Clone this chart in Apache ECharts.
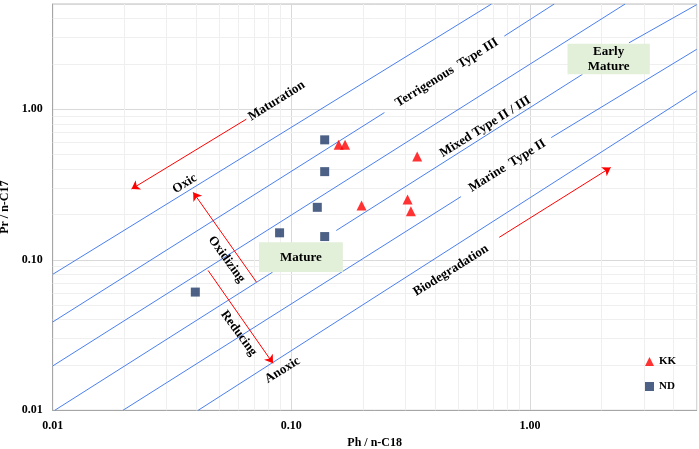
<!DOCTYPE html>
<html lang="en">
<head>
    <meta charset="UTF-8">
    <title>Pr/n-C17 vs Ph/n-C18</title>
    <script src="https://cdn.jsdelivr.net/npm/echarts@6/dist/echarts.min.js"></script>
    <style>html, body { margin: 0; padding: 0; background: #fff; }</style>
</head>
<body>
    <div id="main" style="width: 699px; height: 449px;"></div>

    <script>
        // samples as [Ph/n-C18, Pr/n-C17]
        var kkData = [[0.158, 0.58], [0.168, 0.58], [0.337, 0.486], [0.197, 0.229], [0.307, 0.251], [0.317, 0.210]];
        var ndData = [[0.138, 0.626], [0.138, 0.385], [0.1285, 0.223], [0.0893, 0.151], [0.138, 0.1426], [0.0396, 0.061]];

        var tickValues = [0.01, 0.1, 1];
        var tickLabels = ['0.01', '0.10', '1.00'];
        var minorTicks = [0.02, 0.03, 0.04, 0.05, 0.06, 0.07, 0.08, 0.09,
                          0.2, 0.3, 0.4, 0.5, 0.6, 0.7, 0.8, 0.9, 2, 3, 4];

        // blue guide lines, broken where a label or box sits
        var guideLines = [
            [[0.01, 0.08], [0.69, 5]],
            [[0.01, 0.0386], [0.2456, 0.95]],
            [[0.781, 3.06], [1.264, 5]],
            [[0.01, 0.0197], [2.505, 5]],
            [[0.0102, 0.01], [0.0835, 0.0828]],
            [[0.1543, 0.1564], [1.66, 1.706]],
            [[2.60, 2.76], [5, 4.95]],
            [[0.0197, 0.01], [0.514, 0.2626]],
            [[1.228, 0.648], [5, 2.5]],
            [[0.0407, 0.01], [5, 1.322]]
        ];

        // red arrows: [from, to]
        var arrows = [
            [[0.0648, 0.859], [0.0214, 0.295]],   // maturation
            [[0.0714, 0.0711], [0.0388, 0.2804]], // oxidizing
            [[0.0448, 0.0849], [0.0838, 0.0205]], // reducing
            [[0.744, 0.141], [2.18, 0.410]]       // biodegradation
        ];

        var notes = [
            { text: 'Maturation', at: [0.0868, 1.135], rot: 32 },
            { text: 'Oxic', at: [0.0358, 0.320], rot: 32 },
            { text: 'Terrigenous  Type III', at: [0.449, 1.748], rot: 32 },
            { text: 'Mixed Type II / III', at: [0.650, 0.764], rot: 32 },
            { text: 'Marine  Type II', at: [0.804, 0.421], rot: 32 },
            { text: 'Biodegradation', at: [0.467, 0.0849], rot: 32 },
            { text: 'Anoxic', at: [0.0919, 0.0185], rot: 32 },
            { text: 'Oxidizing', at: [0.0536, 0.1005], rot: -54 },
            { text: 'Reducing', at: [0.0602, 0.0325], rot: -54 }
        ];

        var boxes = [
            { text: 'Mature', from: [0.0732, 0.0828], to: [0.1644, 0.1308] },
            { text: 'Early\nMature', from: [1.437, 1.706], to: [3.18, 2.72] }
        ];

        var serif = '"Times New Roman", "Liberation Serif", serif';
        var boldFont = 'bold 12px ' + serif;
        var noteFont = 'bold 13px ' + serif;

        function tickFormatter(v) {
            for (var i = 0; i < tickValues.length; i++) {
                if (Math.abs(Math.log10(v) - Math.log10(tickValues[i])) < 1e-6) return tickLabels[i];
            }
            return '';
        }

        function logAxis(name, gap, rotate) {
            return {
                type: 'log',
                logBase: 10,
                min: 0.01,
                max: 5,
                name: name,
                nameLocation: 'middle',
                nameGap: gap,
                nameRotate: rotate,
                nameTextStyle: { fontFamily: serif, fontWeight: 'bold', fontSize: 12, color: '#000' },
                axisLine: { show: true, lineStyle: { color: '#a6a6a6' } },
                axisTick: { show: false },
                axisLabel: {
                    formatter: tickFormatter,
                    fontFamily: serif, fontWeight: 'bold', fontSize: 12, color: '#000',
                    margin: 10, showMinLabel: true, showMaxLabel: true
                },
                splitLine: { show: true, lineStyle: { color: '#d9d9d9' } }
            };
        }

        var series = [];

        // faint minor grid (2..9 in each decade)
        series.push({
            type: 'line', data: [], silent: true, z: 1,
            markLine: {
                z: 1, silent: true, animation: false, symbol: ['none', 'none'],
                label: { show: false },
                lineStyle: { color: '#efefef', width: 1, type: 'solid' },
                data: minorTicks.map(function (v) { return { xAxis: v }; })
                    .concat(minorTicks.map(function (v) { return { yAxis: v }; }))
            }
        });

        guideLines.forEach(function (seg) {
            series.push({
                type: 'line', data: seg, symbol: 'none', silent: true, z: 2,
                lineStyle: { color: '#4a7ff0', width: 1 }
            });
        });

        series.push({
            type: 'custom', silent: true, z: 3,
            data: boxes.map(function (b) { return b.from; }),
            renderItem: function (params, api) {
                var b = boxes[params.dataIndex];
                var p1 = api.coord(b.from), p2 = api.coord(b.to);
                return {
                    type: 'group',
                    children: [{
                        type: 'rect',
                        shape: {
                            x: Math.min(p1[0], p2[0]), y: Math.min(p1[1], p2[1]),
                            width: Math.abs(p2[0] - p1[0]), height: Math.abs(p2[1] - p1[1])
                        },
                        style: { fill: '#e2efd9' }
                    }, {
                        type: 'text',
                        x: (p1[0] + p2[0]) / 2, y: (p1[1] + p2[1]) / 2,
                        style: { text: b.text, font: noteFont, fill: '#000', align: 'center', verticalAlign: 'middle', lineHeight: 15 }
                    }]
                };
            }
        });

        series.push({
            type: 'line', data: [], silent: true, z: 4,
            markLine: {
                z: 4, silent: true, animation: false,
                symbol: ['none', 'arrow'], symbolSize: 8,
                label: { show: false },
                lineStyle: { color: '#ff0000', width: 1, type: 'solid' },
                data: arrows.map(function (a) { return [{ coord: a[0] }, { coord: a[1] }]; })
            }
        });

        series.push({
            type: 'custom', silent: true, z: 5,
            data: notes.map(function (n) { return n.at; }),
            renderItem: function (params, api) {
                var n = notes[params.dataIndex];
                var p = api.coord(n.at);
                return {
                    type: 'text', x: p[0], y: p[1],
                    rotation: n.rot * Math.PI / 180,
                    style: { text: n.text, font: noteFont, fill: '#000', align: 'center', verticalAlign: 'middle' }
                };
            }
        });

        series.push({
            name: 'KK', type: 'scatter', data: kkData, z: 6,
            symbol: 'triangle', symbolSize: 10,
            itemStyle: { color: '#ff0000' }
        });
        series.push({
            name: 'ND', type: 'scatter', data: ndData, z: 6,
            symbol: 'rect', symbolSize: 9,
            itemStyle: { color: '#1f3a66' }
        });

        var chart = echarts.init(document.getElementById('main'));
        chart.setOption({
            animation: false,
            grid: {
                left: 52.7, right: 2.3, top: 4, bottom: 38.7,
                containLabel: false, outerBoundsMode: 'none',
                show: true, borderColor: '#bfbfbf', borderWidth: 1
            },
            xAxis: logAxis('Ph / n-C18', 24, 0),
            yAxis: logAxis('Pr / n-C17', 40, 90),
            legend: {
                data: [{ name: 'KK', icon: 'triangle' }, { name: 'ND', icon: 'rect' }],
                orient: 'vertical', left: 645, top: 356,
                itemWidth: 9, itemHeight: 9, itemGap: 14, padding: 0,
                textStyle: { fontFamily: serif, fontWeight: 'bold', fontSize: 11, color: '#000' }
            },
            series: series
        });
    </script>
</body>
</html>
